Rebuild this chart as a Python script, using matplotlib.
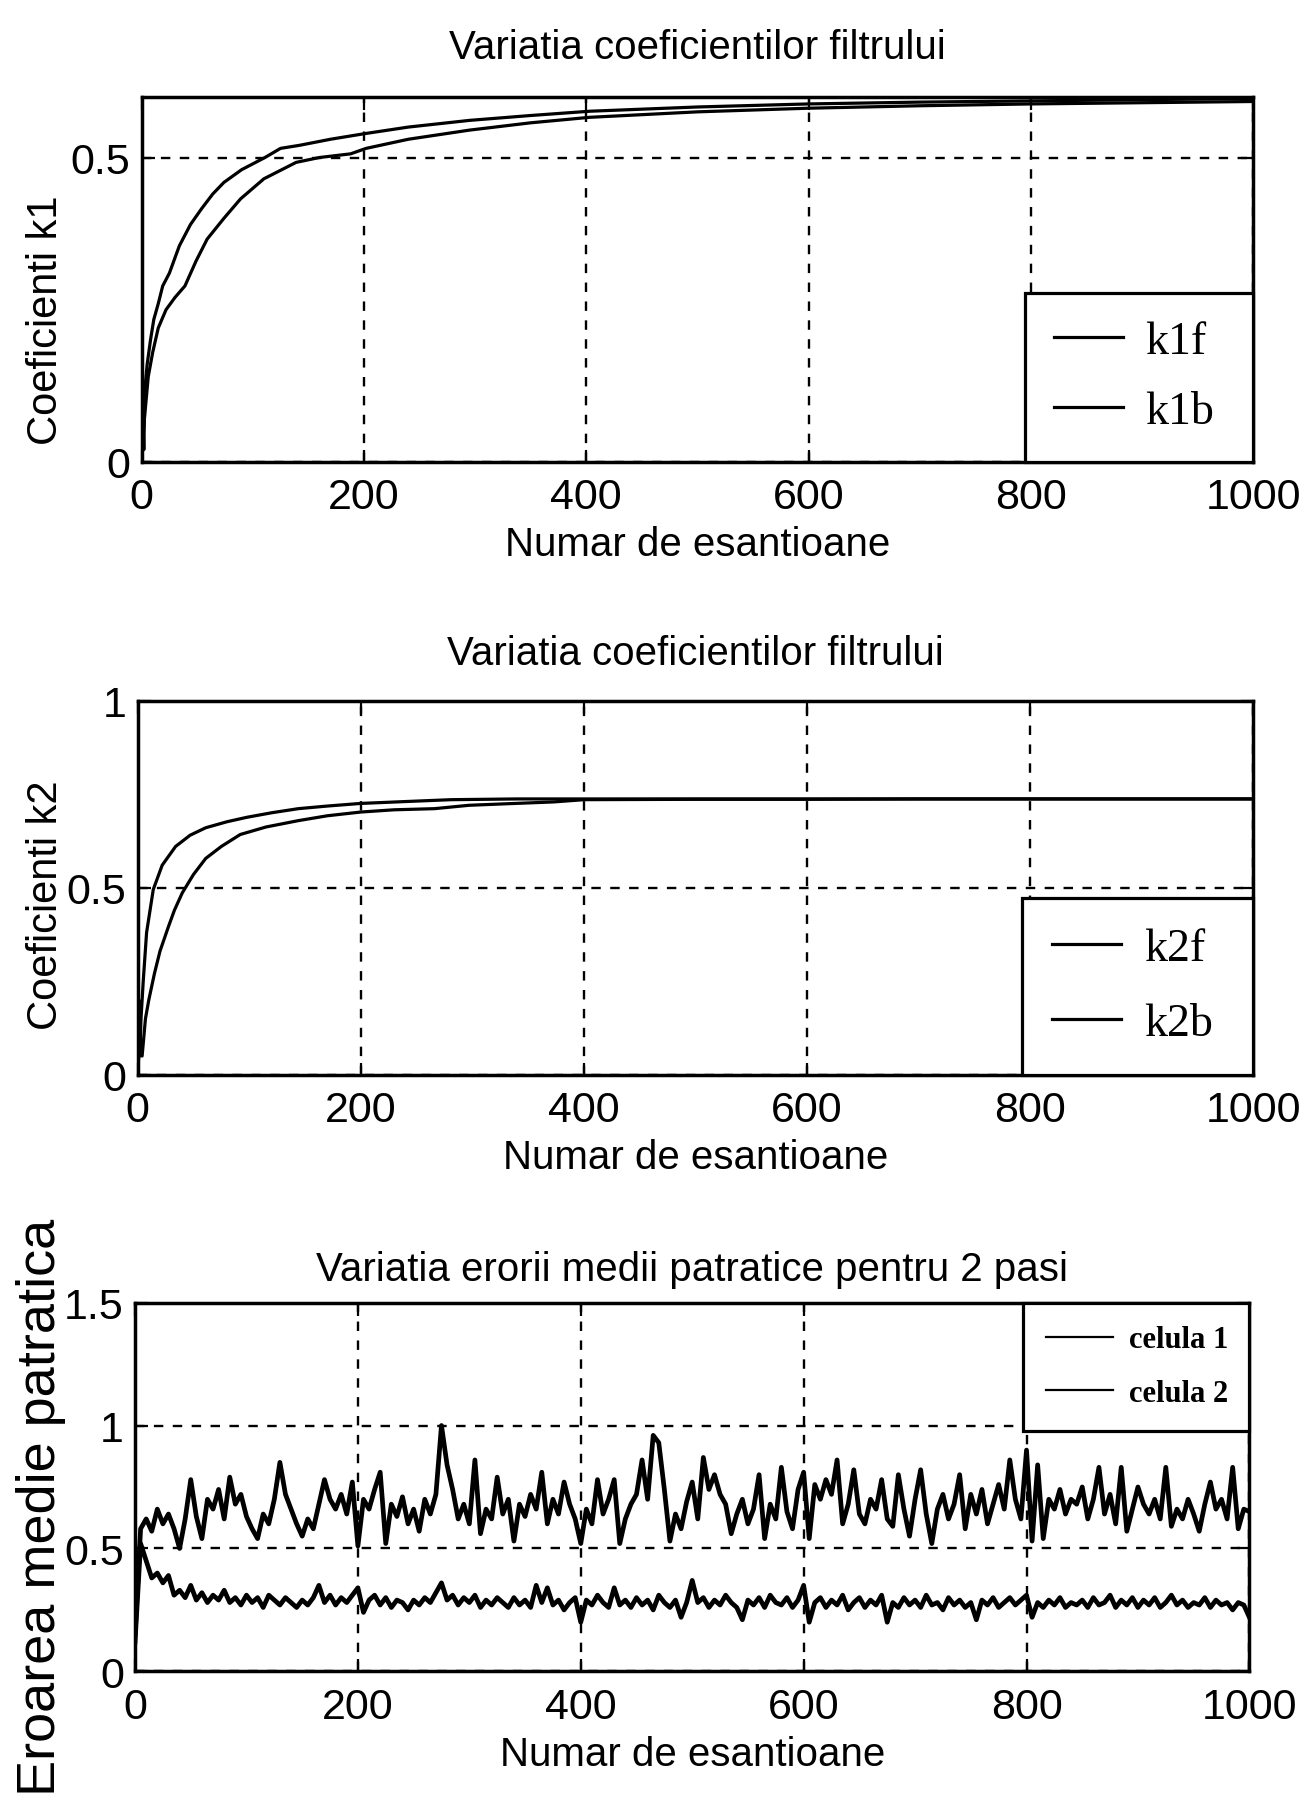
import matplotlib
matplotlib.use("Agg")
import matplotlib.pyplot as plt

# %% fonts (no narrow Arial available, so plain Liberation Sans at a smaller size)
sans = 'Liberation Sans'
serif = 'Liberation Serif'

# %% data - filter coefficients k1 (forward / backward)
k1f_x = [0, 1, 2, 3, 5, 8, 11, 15, 19, 25, 34, 44, 54, 64, 74, 90, 111, 125, 142, 170,
         200, 240, 295, 350, 403, 500, 600, 700, 800, 900, 1000]
k1f_y = [0.0, 0.09, 0.02, 0.12, 0.16, 0.20, 0.234, 0.26, 0.289, 0.31, 0.355, 0.39, 0.416,
         0.44, 0.459, 0.48, 0.50, 0.515, 0.52, 0.53, 0.539, 0.55, 0.561, 0.569, 0.576,
         0.583, 0.588, 0.591, 0.593, 0.595, 0.597]
k1b_x = [0, 2, 4, 6, 10, 15, 22, 30, 39, 49, 59, 74, 89, 110, 139, 160, 188, 202, 240,
         295, 350, 403, 500, 600, 700, 800, 900, 1000]
k1b_y = [0.0, 0.06, 0.10, 0.14, 0.18, 0.22, 0.25, 0.27, 0.289, 0.33, 0.366, 0.40, 0.432,
         0.465, 0.492, 0.50, 0.506, 0.515, 0.53, 0.545, 0.557, 0.566, 0.575, 0.581,
         0.585, 0.588, 0.590, 0.592]

# %% data - filter coefficients k2
k2f_x = [0, 1, 2, 3, 5, 8, 14, 22, 34, 47, 61, 80, 98, 120, 144, 170, 200, 240, 281,
         340, 400, 500, 600, 700, 800, 900, 1000]
k2f_y = [0.0, 0.2, 0.05, 0.15, 0.25, 0.38, 0.495, 0.56, 0.61, 0.64, 0.66, 0.676, 0.688,
         0.70, 0.711, 0.718, 0.725, 0.73, 0.735, 0.737, 0.737, 0.737, 0.737, 0.737,
         0.737, 0.737, 0.737]
k2b_x = [0, 2, 4, 7, 10, 15, 20, 27.5, 33, 40, 50, 61, 75, 92, 115, 144, 170, 200, 230,
         266, 297, 330, 373, 400, 500, 600, 700, 800, 900, 1000]
k2b_y = [0.0, 0.1, 0.05, 0.15, 0.2, 0.27, 0.33, 0.395, 0.44, 0.486, 0.535, 0.578, 0.61,
         0.642, 0.662, 0.679, 0.692, 0.702, 0.708, 0.711, 0.72, 0.724, 0.729, 0.735,
         0.736, 0.736, 0.737, 0.737, 0.737, 0.737]

# %% data - mean square error, one value every 5 samples
mse_x = list(range(0, 1001, 5))
celula1 = [
    0.15, 0.58, 0.62, 0.57, 0.66, 0.60, 0.64, 0.58, 0.50, 0.62,
    0.78, 0.63, 0.54, 0.70, 0.66, 0.74, 0.62, 0.79, 0.68, 0.72,
    0.63, 0.58, 0.54, 0.64, 0.60, 0.70, 0.85, 0.72, 0.66, 0.60,
    0.55, 0.62, 0.58, 0.68, 0.78, 0.70, 0.66, 0.72, 0.64, 0.77,
    0.51, 0.70, 0.66, 0.74, 0.81, 0.52, 0.68, 0.63, 0.71, 0.60,
    0.66, 0.57, 0.70, 0.64, 0.72, 1.00, 0.84, 0.74, 0.62, 0.68,
    0.60, 0.86, 0.56, 0.66, 0.62, 0.79, 0.64, 0.70, 0.53, 0.68,
    0.63, 0.72, 0.66, 0.81, 0.60, 0.70, 0.64, 0.77, 0.68, 0.62,
    0.52, 0.66, 0.60, 0.78, 0.64, 0.70, 0.78, 0.52, 0.62, 0.68,
    0.72, 0.86, 0.70, 0.96, 0.93, 0.74, 0.53, 0.64, 0.58, 0.69,
    0.77, 0.62, 0.87, 0.74, 0.80, 0.72, 0.68, 0.56, 0.64, 0.70,
    0.60, 0.66, 0.80, 0.54, 0.68, 0.62, 0.83, 0.65, 0.58, 0.74,
    0.81, 0.54, 0.76, 0.70, 0.78, 0.72, 0.86, 0.60, 0.68, 0.82,
    0.64, 0.60, 0.70, 0.66, 0.78, 0.62, 0.59, 0.80, 0.66, 0.55,
    0.70, 0.82, 0.64, 0.52, 0.66, 0.72, 0.62, 0.68, 0.80, 0.58,
    0.72, 0.64, 0.74, 0.60, 0.68, 0.76, 0.66, 0.86, 0.70, 0.62,
    0.90, 0.53, 0.84, 0.54, 0.70, 0.66, 0.74, 0.64, 0.70, 0.68,
    0.75, 0.62, 0.70, 0.83, 0.64, 0.72, 0.60, 0.83, 0.57, 0.66,
    0.75, 0.68, 0.64, 0.70, 0.62, 0.83, 0.59, 0.66, 0.62, 0.70,
    0.64, 0.57, 0.68, 0.77, 0.66, 0.70, 0.62, 0.83, 0.58, 0.66,
    0.65]
celula2 = [
    0.12, 0.52, 0.45, 0.38, 0.40, 0.36, 0.39, 0.31, 0.33, 0.30,
    0.35, 0.29, 0.32, 0.28, 0.31, 0.29, 0.33, 0.28, 0.30, 0.27,
    0.31, 0.28, 0.30, 0.26, 0.31, 0.29, 0.27, 0.30, 0.28, 0.26,
    0.29, 0.27, 0.30, 0.35, 0.28, 0.31, 0.27, 0.30, 0.28, 0.31,
    0.34, 0.24, 0.29, 0.31, 0.27, 0.30, 0.26, 0.29, 0.28, 0.25,
    0.29, 0.27, 0.30, 0.28, 0.32, 0.36, 0.29, 0.31, 0.27, 0.30,
    0.28, 0.31, 0.26, 0.29, 0.27, 0.30, 0.28, 0.26, 0.30, 0.27,
    0.29, 0.26, 0.35, 0.28, 0.34, 0.27, 0.29, 0.25, 0.28, 0.30,
    0.20, 0.29, 0.27, 0.31, 0.28, 0.26, 0.34, 0.27, 0.29, 0.26,
    0.30, 0.27, 0.29, 0.25, 0.31, 0.28, 0.26, 0.29, 0.22, 0.28,
    0.37, 0.28, 0.30, 0.26, 0.29, 0.27, 0.31, 0.28, 0.26, 0.21,
    0.29, 0.27, 0.30, 0.26, 0.31, 0.28, 0.27, 0.30, 0.26, 0.29,
    0.35, 0.20, 0.28, 0.30, 0.26, 0.29, 0.27, 0.31, 0.25, 0.28,
    0.30, 0.26, 0.29, 0.27, 0.31, 0.20, 0.28, 0.26, 0.30, 0.27,
    0.29, 0.26, 0.31, 0.27, 0.28, 0.25, 0.30, 0.27, 0.29, 0.26,
    0.28, 0.21, 0.29, 0.27, 0.30, 0.26, 0.28, 0.30, 0.27, 0.29,
    0.31, 0.22, 0.28, 0.26, 0.29, 0.27, 0.30, 0.26, 0.28, 0.27,
    0.29, 0.26, 0.30, 0.27, 0.28, 0.31, 0.26, 0.29, 0.27, 0.30,
    0.26, 0.29, 0.27, 0.30, 0.26, 0.28, 0.31, 0.27, 0.29, 0.26,
    0.28, 0.27, 0.30, 0.26, 0.29, 0.27, 0.28, 0.25, 0.28, 0.27,
    0.22]

x_ticks = [0, 200, 400, 600, 800, 1000]
title_k = "Variatia coeficientilor filtrului"
title_e = "Variatia erorii medii patratice pentru 2 pasi"
xlabel = "Numar de esantioane"

# %% figure
fig = plt.figure(figsize=(13.11, 18.08), dpi=100)
ax1 = fig.add_axes([0.108, 0.744, 0.848, 0.202])
ax2 = fig.add_axes([0.105, 0.405, 0.851, 0.207])
ax3 = fig.add_axes([0.103, 0.075, 0.850, 0.204])

tick_size = 31
lab_size = 29


def style_axes(ax, yticks, ylim):
    ax.set_xlim(0, 1000)
    ax.set_ylim(*ylim)
    ax.set_xticks(x_ticks)
    ax.set_yticks(yticks)
    ax.set_xticklabels([str(t) for t in x_ticks], family=sans, fontsize=tick_size)
    ax.set_yticklabels([('%g' % t) for t in yticks], family=sans, fontsize=tick_size)
    ax.tick_params(direction='in', length=9, width=1.6, top=True, right=True)
    ax.tick_params(axis='x', pad=11)
    ax.tick_params(axis='y', pad=8)
    ax.grid(True, color='black', linestyle=(0, (4, 4)), linewidth=1.7)
    for s in ax.spines.values():
        s.set_linewidth(2.5)
    ax.set_xlabel(xlabel, family=sans, fontsize=lab_size, labelpad=6)


# top panel
ax1.plot(k1f_x, k1f_y, color='black', lw=2.3, label='k1f')
ax1.plot(k1b_x, k1b_y, color='black', lw=2.3, label='k1b')
style_axes(ax1, [0, 0.5], (0, 0.6))
ax1.set_title(title_k, family=sans, fontsize=lab_size, pad=28)
ax1.set_ylabel("Coeficienti k1", family=sans, fontsize=30)
ax1.yaxis.set_label_coords(-0.068, 0.39)
leg1 = ax1.legend(loc='lower left', bbox_to_anchor=(0.795, 0.0, 0.205, 0.48), mode='expand',
                  borderaxespad=0, prop={'family': serif, 'size': 33}, handlelength=1.5,
                  handletextpad=0.5, labelspacing=0.6, borderpad=0.62, fancybox=False,
                  edgecolor='black', framealpha=1)
leg1.get_frame().set_linewidth(2.3)

# middle panel
ax2.plot(k2f_x, k2f_y, color='black', lw=2.3, label='k2f')
ax2.plot(k2b_x, k2b_y, color='black', lw=2.3, label='k2b')
style_axes(ax2, [0, 0.5, 1], (0, 1))
ax2.set_title(title_k, family=sans, fontsize=lab_size, pad=26)
ax2.set_ylabel("Coeficienti k2", family=sans, fontsize=30)
ax2.yaxis.set_label_coords(-0.064, 0.455)
leg2 = ax2.legend(loc='lower left', bbox_to_anchor=(0.793, 0.0, 0.207, 0.494), mode='expand',
                  borderaxespad=0, prop={'family': serif, 'size': 33}, handlelength=1.5,
                  handletextpad=0.5, labelspacing=0.7, borderpad=0.65, fancybox=False,
                  edgecolor='black', framealpha=1)
leg2.get_frame().set_linewidth(2.3)

# bottom panel
ax3.plot(mse_x, celula1, color='black', lw=3.4, label='celula 1')
ax3.plot(mse_x, celula2, color='black', lw=3.4, label='celula 2')
style_axes(ax3, [0, 0.5, 1, 1.5], (0, 1.5))
ax3.set_title(title_e, family=sans, fontsize=lab_size, pad=16)
ax3.set_ylabel("Eroarea medie patratica", family=sans, fontsize=39)
ax3.yaxis.set_label_coords(-0.062, 0.447)
leg3 = ax3.legend(loc='upper left', bbox_to_anchor=(0.797, 0.616, 0.203, 0.384), mode='expand',
                  borderaxespad=0, prop={'family': serif, 'size': 22, 'weight': 'bold'},
                  handlelength=2.2, handletextpad=0.5, labelspacing=0.8, borderpad=0.75,
                  fancybox=False, edgecolor='black', framealpha=1)
leg3.get_frame().set_linewidth(2.3)
for h in leg3.get_lines():
    h.set_linewidth(1.6)

fig.savefig("out.png", dpi=100, facecolor='white')
